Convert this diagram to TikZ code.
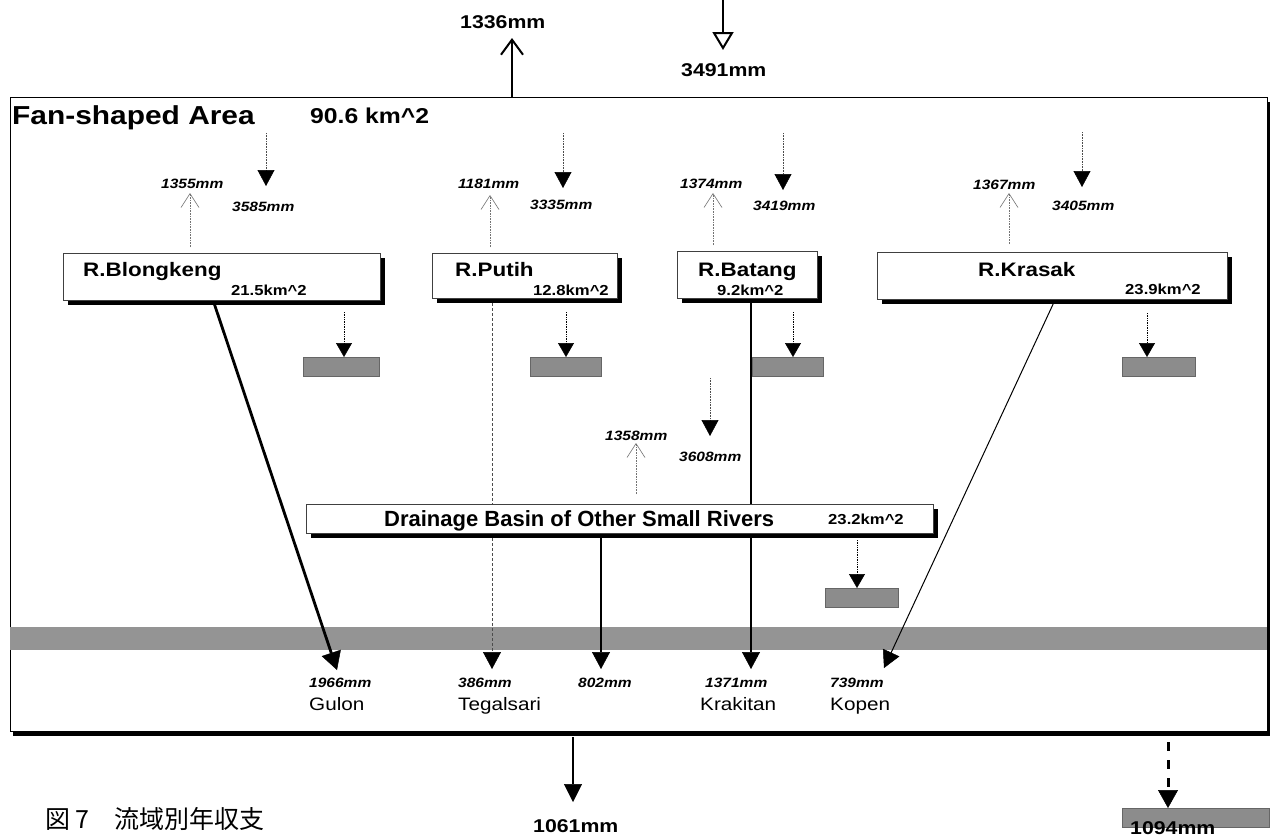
\documentclass[tikz,border=0pt]{standalone}
\usepackage{fontspec}
\setmainfont{Liberation Sans}
\newfontfamily\wf{Liberation Sans}[FakeStretch=1.15]
\newfontfamily\cjk{Noto Sans CJK JP}
\usetikzlibrary{arrows.meta,shadows}
\pgfdeclarelayer{bg}
\pgfsetlayers{bg,main}
\begin{document}
\begin{tikzpicture}[x=1pt,y=-1pt,
  box/.style={draw=black!75, line width=0.7pt, fill=white, inner sep=0pt, anchor=north west,
    drop shadow={shadow xshift=5pt,shadow yshift=-5pt,fill=black,opacity=1}},
  greybox/.style={fill=black!45, draw=black!60, line width=0.4pt, inner sep=0pt, minimum height=19pt},
  txt/.style={inner sep=0pt, anchor=base west},
  fTitle/.style={txt, font=\wf\bfseries\fontsize{26}{30}\selectfont},
  fArea/.style={txt, font=\wf\bfseries\fontsize{21.5}{24}\selectfont},
  fRiver/.style={txt, font=\wf\bfseries\fontsize{19.5}{22}\selectfont},
  fSmall/.style={txt, font=\wf\bfseries\fontsize{14.5}{16}\selectfont},
  fMm/.style={txt, font=\wf\bfseries\itshape\fontsize{13.5}{16}\selectfont},
  fPlace/.style={txt, font=\wf\fontsize{18}{20}\selectfont},
  fBig/.style={txt, font=\wf\bfseries\fontsize{18.5}{20}\selectfont},
  fDrain/.style={txt, font=\bfseries\fontsize{22}{24}\selectfont},
  arrDown/.style={draw=black!70, densely dotted, line width=0.6pt, -{Triangle[width=17pt,length=16pt,color=black,line width=0.5pt]}},
  arrUp/.style={draw=black!55, densely dotted, line width=0.6pt, -{Straight Barb[width=18pt,length=14pt,line width=0.6pt]}},
  arrBox/.style={draw=black, densely dotted, line width=0.7pt, -{Triangle[width=16pt,length=14pt,line width=0.5pt]}},
  botTip/.style={-{Triangle[width=18pt,length=17pt,line width=0.5pt,color=black]}},
]
\useasboundingbox (0,0) rectangle (1272,836);

% ---------- basin boxes ----------
\node[box, minimum width=317pt, minimum height=47pt] (blong) at (63,253) {};
\node[box, minimum width=185pt, minimum height=45pt] (putih) at (432,253) {};
\node[box, minimum width=140pt, minimum height=47pt] (batang) at (677,251) {};
\node[box, minimum width=350pt, minimum height=47pt] (krasak) at (877,252) {};
\node[box, minimum width=627pt, minimum height=29pt] (drain) at (306,504) {};

% ---------- coordinates ----------
\coordinate (blongOut) at (213,300);
\coordinate (putihOut) at (492,298);
\coordinate (batangOut) at (751,299);
\coordinate (krasakOut) at (1055,300);
\coordinate (drainOut) at (601,534);
\coordinate (gulonTip) at (337,670);
\coordinate (tegTip) at (492,669);
\coordinate (m802Tip) at (601,669);
\coordinate (krakTip) at (751,669);
\coordinate (kopenTip) at (884,668);

\begin{pgfonlayer}{bg}
  \fill[white] (0,0) rectangle (1272,836);
  \node[draw=black, line width=0.8pt, fill=white, inner sep=0pt, anchor=north west,
        minimum width=1257pt, minimum height=634pt,
        drop shadow={shadow xshift=2.5pt,shadow yshift=-5pt,fill=black,opacity=1}] (frame) at (10,97) {};
  \node[fill=black!42, inner sep=0pt, anchor=north west, minimum width=1257pt, minimum height=23pt] (band) at (10,627) {};
  % long connectors to the outlets
  \draw[line width=2.8pt, -{Triangle[width=20pt,length=18pt,line width=0.5pt]}] (blongOut) -- (gulonTip);
  \draw[black!70, line width=0.6pt, densely dashed, botTip] (putihOut) -- (tegTip);
  \draw[line width=1.4pt, botTip] (drainOut) -- (m802Tip);
  \draw[line width=2.2pt, botTip] (batangOut) -- (krakTip);
  \draw[line width=1pt, botTip] (krasakOut) -- (kopenTip);
\end{pgfonlayer}

% ---------- texts in frame ----------
\node[fTitle] (title) at (12,124) {Fan-shaped Area};
\node[fArea] (areaAll) at (310,123) {90.6 km\textasciicircum 2};

\node[fRiver] (tBlong) at (83,276) {R.Blongkeng};
\node[fSmall] (aBlong) at (231,295) {21.5km\textasciicircum 2};
\node[fRiver] (tPutih) at (455,276) {R.Putih};
\node[fSmall] (aPutih) at (533,295) {12.8km\textasciicircum 2};
\node[fRiver] (tBatang) at (698,276) {R.Batang};
\node[fSmall] (aBatang) at (717,295) {9.2km\textasciicircum 2};
\node[fRiver] (tKrasak) at (978,276) {R.Krasak};
\node[fSmall] (aKrasak) at (1125,294) {23.9km\textasciicircum 2};
\node[fDrain] (tDrain) at (384,526) {Drainage Basin of Other Small Rivers};
\node[fSmall] (aDrain) at (828,524) {23.2km\textasciicircum 2};

% evaporation (up) and rainfall (down) labels
\node[fMm] (e1) at (161,188) {1355mm};
\node[fMm] (r1) at (232,211) {3585mm};
\node[fMm] (e2) at (458,188) {1181mm};
\node[fMm] (r2) at (530,209) {3335mm};
\node[fMm] (e3) at (680,188) {1374mm};
\node[fMm] (r3) at (753,210) {3419mm};
\node[fMm] (e4) at (973,189) {1367mm};
\node[fMm] (r4) at (1052,210) {3405mm};
\node[fMm] (e5) at (605,440) {1358mm};
\node[fMm] (r5) at (679,461) {3608mm};

% up arrows
\coordinate (u1s) at (190,247); \coordinate (u1e) at (190,193);
\coordinate (u2s) at (490,247); \coordinate (u2e) at (490,195);
\coordinate (u3s) at (713,245); \coordinate (u3e) at (713,193);
\coordinate (u4s) at (1009,244); \coordinate (u4e) at (1009,193);
\coordinate (u5s) at (636,494); \coordinate (u5e) at (636,443);
\draw[arrUp] (u1s) -- (u1e);
\draw[arrUp] (u2s) -- (u2e);
\draw[arrUp] (u3s) -- (u3e);
\draw[arrUp] (u4s) -- (u4e);
\draw[arrUp] (u5s) -- (u5e);

% down arrows (rain)
\coordinate (d1s) at (266,133); \coordinate (d1e) at (266,186);
\coordinate (d2s) at (563,133); \coordinate (d2e) at (563,188);
\coordinate (d3s) at (783,133); \coordinate (d3e) at (783,190);
\coordinate (d4s) at (1082,132); \coordinate (d4e) at (1082,187);
\coordinate (d5s) at (710,378); \coordinate (d5e) at (710,436);
\draw[arrDown] (d1s) -- (d1e);
\draw[arrDown] (d2s) -- (d2e);
\draw[arrDown] (d3s) -- (d3e);
\draw[arrDown] (d4s) -- (d4e);
\draw[arrDown] (d5s) -- (d5e);

% grey boxes with dotted arrows
\node[greybox, minimum width=76pt] (g1) at (341,366.5) {};
\node[greybox, minimum width=71pt] (g2) at (566,366.5) {};
\node[greybox, minimum width=71pt] (g3) at (788,366.5) {};
\node[greybox, minimum width=73pt] (g4) at (1158.5,366.5) {};
\node[greybox, minimum width=73pt] (g5) at (861.5,597.5) {};
\coordinate (b1s) at (344,312); \coordinate (b1e) at (344,357);
\coordinate (b2s) at (566,312); \coordinate (b2e) at (566,357);
\coordinate (b3s) at (793,312); \coordinate (b3e) at (793,357);
\coordinate (b4s) at (1147,313); \coordinate (b4e) at (1147,357);
\coordinate (b5s) at (857,540); \coordinate (b5e) at (857,588);
\draw[arrBox] (b1s) -- (b1e);
\draw[arrBox] (b2s) -- (b2e);
\draw[arrBox] (b3s) -- (b3e);
\draw[arrBox] (b4s) -- (b4e);
\draw[arrBox] (b5s) -- (b5e);

% outlets
\node[fMm] (o1) at (309,687) {1966mm};
\node[fPlace] (p1) at (309,710) {Gulon};
\node[fMm] (o2) at (458,687) {386mm};
\node[fPlace] (p2) at (458,710) {Tegalsari};
\node[fMm] (o3) at (578,687) {802mm};
\node[fMm] (o4) at (705,687) {1371mm};
\node[fPlace] (p4) at (700,710) {Krakitan};
\node[fMm] (o5) at (830,687) {739mm};
\node[fPlace] (p5) at (830,710) {Kopen};

% ---------- outside the frame ----------
\coordinate (topOut) at (512,97);
\coordinate (topOutE) at (512,38);
\draw[line width=2pt, -{Straight Barb[width=22pt,length=15pt,line width=2pt]}] (topOut) -- (topOutE);
\node[fBig] (l1336) at (460,28) {1336mm};

\coordinate (rainS) at (723,0);
\coordinate (rainE) at (723,50);
\draw[line width=1.5pt, -{Triangle[open,width=21pt,length=18pt,line width=2pt]}] (rainS) -- (rainE);
\node[fBig] (l3491) at (681,76) {3491mm};

\coordinate (outS) at (573,737);
\coordinate (outE) at (573,802);
\draw[line width=1.5pt, -{Triangle[width=18pt,length=18pt,line width=0.5pt]}] (outS) -- (outE);
\node[fBig] (l1061) at (533,832) {1061mm};

\node[greybox, minimum width=147pt] (g6) at (1195.5,817.5) {};
\coordinate (gwS) at (1168,742);
\coordinate (gwE) at (1168,808);
\draw[line width=3pt, dash pattern=on 9pt off 9pt, -{Triangle[width=20pt,length=18pt,line width=0.5pt]}] (gwS) -- (gwE);
\node[fBig] (l1094) at (1130,834) {1094mm};

\node[txt, font=\cjk\fontsize{25}{27}\selectfont] (cap) at (45,828) {図 7\quad 流域別年収支};
\end{tikzpicture}
\end{document}
